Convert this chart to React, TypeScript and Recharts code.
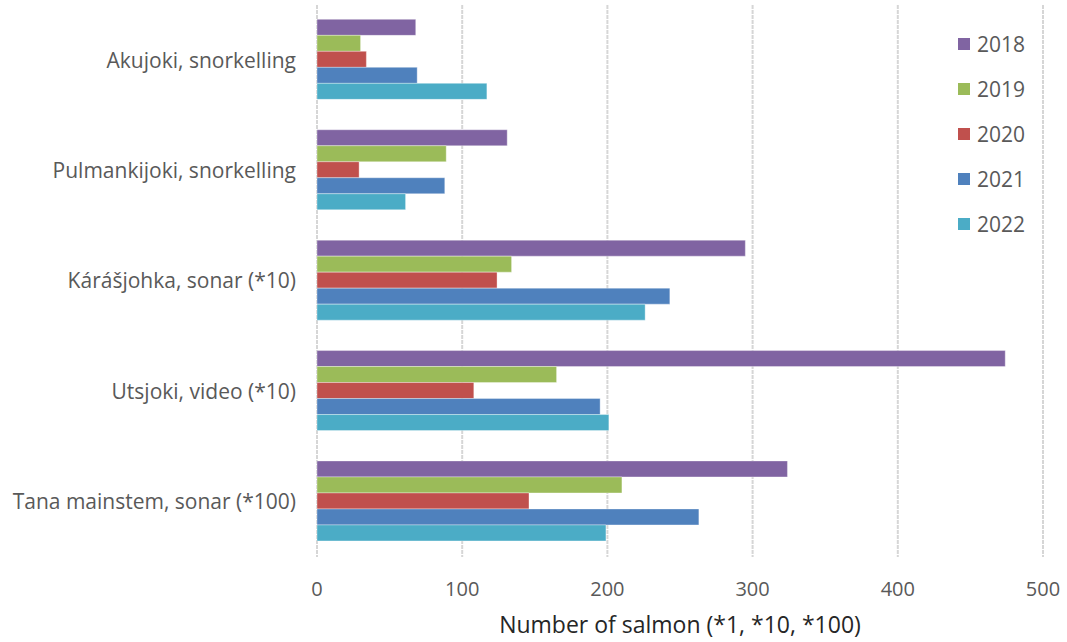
import React from "react";
import { BarChart, Bar, XAxis, YAxis, CartesianGrid } from "recharts";

const sites = [
  "Akujoki, snorkelling",
  "Pulmankijoki, snorkelling",
  "Kárášjohka, sonar (*10)",
  "Utsjoki, video (*10)",
  "Tana mainstem, sonar (*100)",
];

const years = ["2018", "2019", "2020", "2021", "2022"];

const v2018 = [68, 131, 295, 474, 324];
const v2019 = [30, 89, 134, 165, 210];
const v2020 = [34, 29, 124, 108, 146];
const v2021 = [69, 88, 243, 195, 263];
const v2022 = [117, 61, 226, 201, 199];

const xTicks = [0, 100, 200, 300, 400, 500];

const COLORS = ["#8064A2", "#9BBB59", "#C0504D", "#4F81BD", "#4BACC6"];
const FONT = "'Open Sans', Lato, sans-serif";

const series = [v2018, v2019, v2020, v2021, v2022];

const data = sites.map((site, i) => {
  const row: { [key: string]: string | number } = { site };
  years.forEach((y, j) => {
    row[y] = series[j][i];
  });
  return row;
});

// legend sits on top of the plot area, like in the original
const SideLegend = () => (
  <div
    style={{
      position: "absolute",
      left: 958,
      top: 21,
      fontFamily: FONT,
    }}
  >
    {years.map((y, i) => (
      <div
        key={y}
        style={{
          display: "flex",
          alignItems: "center",
          height: 45,
          fontSize: 21,
          color: "#595959",
        }}
      >
        <span
          style={{
            display: "inline-block",
            width: 12,
            height: 12,
            background: COLORS[i],
            marginRight: 7,
          }}
        />
        {y}
      </div>
    ))}
  </div>
);

export default function App() {
  return (
    <div
      style={{
        position: "absolute",
        left: 0,
        top: 0,
        width: 1067,
        height: 642,
        background: "#fff",
      }}
    >
      <BarChart
        width={1067}
        height={642}
        data={data}
        layout='vertical'
        margin={{ top: 5, right: 24, left: 0, bottom: 0 }}
        barCategoryGap='13%'
        barGap={0}
      >
        <CartesianGrid
          horizontal={false}
          stroke='#d6d6d6'
          strokeWidth={2}
          strokeDasharray='4 1'
        />
        <XAxis
          type='number'
          domain={[0, 500]}
          ticks={xTicks}
          axisLine={false}
          tickLine={false}
          tickSize={0}
          tickMargin={25}
          height={85}
          tick={{ fontSize: 20, fill: "#595959", fontFamily: FONT }}
          label={{
            value: "Number of salmon (*1, *10, *100)",
            position: "insideBottom",
            offset: 9,
            fontSize: 23,
            fill: "#262626",
            fontFamily: FONT,
          }}
        />
        <YAxis
          type='category'
          dataKey='site'
          width={317}
          axisLine={false}
          tickLine={false}
          tickSize={0}
          tickMargin={21}
          tick={{ fontSize: 21, fill: "#595959", fontFamily: FONT }}
        />
        {years.map((y, i) => (
          <Bar
            key={y}
            dataKey={y}
            fill={COLORS[i]}
            stroke='rgba(255,255,255,0.35)'
            strokeWidth={1}
            isAnimationActive={false}
          />
        ))}
      </BarChart>
      <SideLegend />
    </div>
  );
}
